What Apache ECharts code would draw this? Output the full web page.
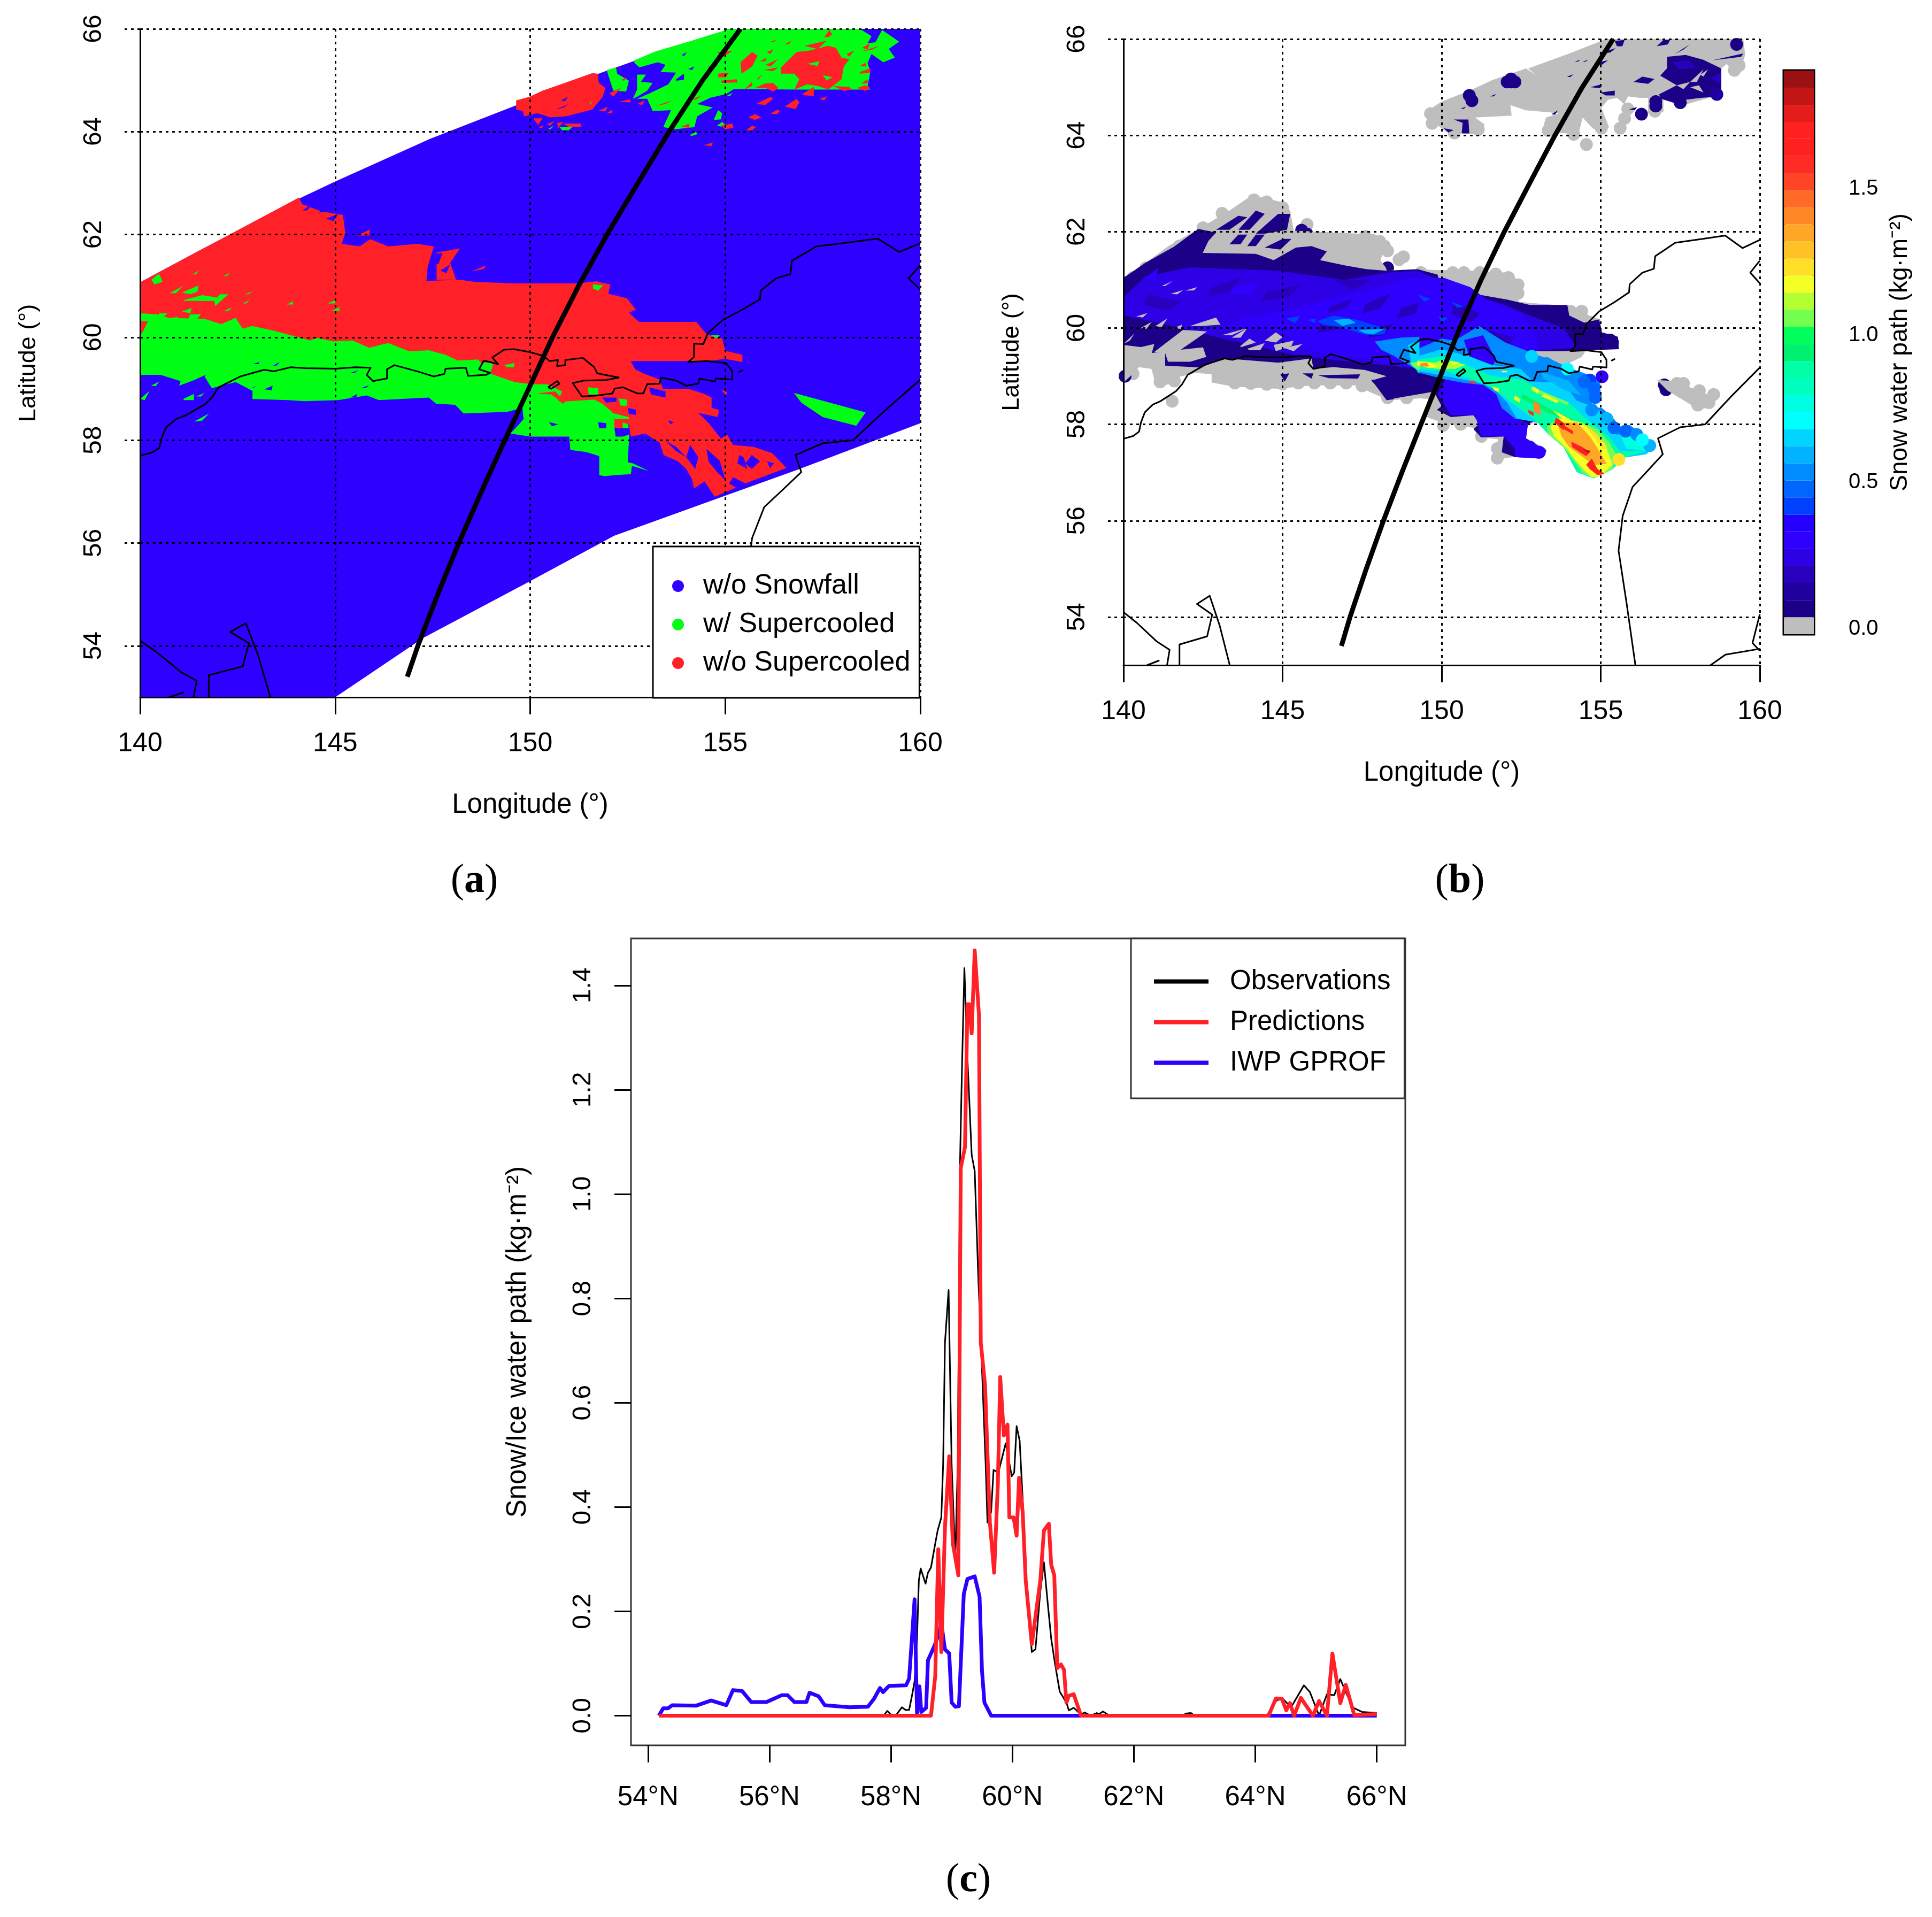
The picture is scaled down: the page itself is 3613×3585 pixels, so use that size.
<!DOCTYPE html>
<html>
<head>
<meta charset="UTF-8">
<title>Snowfall retrieval</title>
<style>html,body{margin:0;padding:0;background:#fff}#main{width:3613px;height:3585px}</style>
</head>
<body>
<div id="main"></div>
<script src="https://cdn.jsdelivr.net/npm/echarts@6/dist/echarts.min.js"></script>
<script>
// ---- shared axes
var lonTicks = [140, 145, 150, 155, 160];
var latTicks = [54, 56, 58, 60, 62, 64, 66];
var classNames = ['w/o Snowfall', 'w/ Supercooled', 'w/o Supercooled'];

// satellite track, lon/lat
var trackLine = [[146.85,53.4],[147.12,54],[147.63,55],[148.17,56],[148.75,57],[149.35,58],[149.96,59],[150.57,60],[151.24,61],[151.97,62],[152.76,63],[153.56,64],[154.42,65],[155.39,66]];

// coast lines, lon/lat
var coastLines = [
  [[140,57.7],[140.31,57.76],[140.49,57.85],[140.55,58.04],[140.67,58.25],[140.92,58.41],[141.16,58.48],[141.65,58.69],[141.84,58.83],[142.02,59.03],[142.57,59.24],[143.18,59.37],[143.43,59.34],[143.86,59.42],[144.22,59.4],[145.02,59.39],[145.51,59.42],[145.91,59.41],[145.81,59.27],[145.97,59.15],[146.33,59.2],[146.33,59.38],[146.52,59.46],[147.1,59.34],[147.53,59.24],[147.8,59.29],[147.83,59.39],[148.35,59.41],[148.41,59.25],[148.87,59.27],[148.97,59.31],[148.69,59.38],[148.81,59.55],[149.18,59.48],[149.03,59.61],[149.33,59.76],[149.59,59.77],[150.01,59.71],[150.33,59.64],[150.5,59.54],[150.71,59.56],[150.69,59.44],[150.9,59.46],[150.9,59.56],[151.35,59.6],[151.64,59.42],[151.72,59.3],[152.27,59.22],[151.95,59.17],[151.37,59.16],[151.09,59.11],[151.33,58.85],[151.74,58.87],[152.11,58.91],[152.16,59],[152.37,59.03],[152.74,58.91],[152.9,58.91],[153,59.09],[153.32,59.1],[153.35,59.22],[153.74,59.16],[154,59.06],[154.31,59.1],[154.34,59.2],[154.73,59.14],[154.76,59.2],[155.18,59.18],[155.18,59.34],[155.02,59.5],[154.52,59.54],[154.05,59.52],[154.2,59.62],[154.2,59.88],[154.44,59.87],[154.55,60.08],[154.94,60.34],[155.44,60.54],[155.89,60.74],[155.91,60.91],[156.31,61.15],[156.67,61.23],[156.71,61.49],[157.34,61.77],[158.2,61.85],[158.91,61.92],[159.46,61.66],[160,61.83]],
  [[160,61.4],[159.7,61.15],[160,60.93]],
  [[150.46,59.03],[150.69,59.15],[150.75,59.1],[150.54,59],[150.46,59.03]],
  [[155.33,59.32],[155.45,59.36]],
  [[160,59.18],[159.07,58.56],[158.28,58],[157.5,57.94],[156.8,57.71],[156.95,57.38],[156.48,57.04],[156,56.7],[155.69,56.1],[155.56,55.38],[155.81,54.3],[156.09,53]],
  [[140,54.1],[140.42,53.88],[141.05,53.49],[141.45,53.32],[141.37,53]],
  [[141.76,53],[141.76,53.43],[142.63,53.6],[142.79,54.05],[142.31,54.27],[142.71,54.44],[143.02,53.83],[143.34,53]],
  [[140.74,53],[141.13,53.1]],
  [[158.45,53],[158.92,53.22],[160,53.34]],
  [[160,54.06],[159.77,53.46],[160,53.3]]
];

// ---- panel a: classified swath outlines, lon/lat
var swathRing = [[140,61.07],[141.6,61.72],[144.08,62.7],[145,63.03],[147.43,63.86],[150,64.62],[151.83,65.15],[153.09,65.49],[155,65.94],[155.3,66],[160,66],[160,58.33],[156.87,57.43],[155,56.92],[152.15,56.14],[150,55.26],[147.27,54.16],[145,53],[140,53]];

var greenRings = [
  [[140,59.27],[140.52,59.27],[141.04,59.15],[141,59.06],[141.65,59.24],[141.84,59.01],[142.08,59.06],[142.45,59.13],[142.88,58.96],[142.88,58.8],[143.79,58.78],[144.22,58.76],[145.08,58.78],[145.81,58.87],[146.12,58.78],[147.4,58.83],[147.59,58.71],[148.08,58.69],[148.29,58.52],[149.41,58.55],[149.8,58.63],[149.83,58.41],[149.67,58.27],[149.49,58.13],[150.01,58.07],[151,58.07],[151.03,57.81],[151.43,57.77],[151.77,57.69],[151.77,57.32],[151.9,57.3],[152.2,57.32],[152.58,57.34],[152.61,57.5],[153.05,57.4],[152.63,57.55],[152.5,57.57],[152.54,58.11],[152.5,58.43],[152.45,58.79],[151.9,58.75],[151.9,59],[150.85,59.1],[150.06,59.1],[149,59.5],[148,59.8],[146,60],[144,60.2],[142,60.5],[140,60.6]],
  [[156.76,58.92],[158.6,58.54],[158.36,58.28],[157.5,58.45],[156.95,58.73]],
  [[152.67,65.39],[153.21,65.56],[154.01,65.74],[154.95,65.96],[155.02,66],[158.45,66],[158.75,65.86],[158.65,65.72],[158.85,65.74],[159.02,65.98],[159.46,65.75],[159.19,65.61],[159.35,65.44],[159.05,65.35],[158.75,65.51],[158.65,65.34],[158.72,65.16],[158.65,64.89],[158.72,64.82],[156.83,64.82],[155.22,64.83],[155.02,64.73],[154.62,64.66],[154.28,64.54],[154.68,64.47],[154.28,64.3],[154.21,64.09],[153.74,64.05],[153.41,64.09],[153.61,64.42],[153.14,64.4],[153,64.64],[152.74,64.64],[153.07,64.75],[153.54,64.92],[153.74,65.15],[153.34,65.16],[153.47,65.3],[153.27,65.35],[152.8,65.25],[152.67,65.34]],
  [[151.96,65.2],[152.2,65.25],[152.23,65.13],[152.53,64.99],[152.46,64.78],[152.13,64.8],[152.03,65.03]],
  [[152.74,65.11],[152.97,65.11],[152.84,64.97],[153.14,64.95],[153,64.8],[152.74,64.68],[152.63,64.64],[152.74,64.82]]
];

var redRings = [
  [[140,61.07],[141.6,61.72],[144.07,62.72],[144.16,62.59],[144.65,62.45],[145.2,62.38],[145.26,62.03],[145.17,61.82],[145.63,61.77],[145.9,61.91],[146.36,61.77],[147.1,61.82],[147.53,61.77],[147.37,61.36],[147.34,61.1],[148.2,61.12],[148.57,61.08],[149.6,61.05],[150,61.05],[151.22,61.05],[151.69,61.09],[152.06,61.03],[152,60.85],[152.48,60.76],[152.71,60.54],[152.53,60.48],[152.79,60.3],[154.26,60.3],[154.52,60.06],[154.92,59.98],[155,59.74],[155.44,59.66],[155.44,59.52],[155,59.58],[154.52,59.54],[153.63,59.54],[152.58,59.54],[152.69,59.38],[152.9,59.3],[153.32,59.18],[153.4,59],[154.05,59],[154.47,58.9],[154.65,58.83],[154.65,58.63],[154.84,58.59],[154.81,58.45],[154.31,58.53],[154.58,58.33],[154.89,58.03],[155.05,58.11],[155.2,57.91],[155.73,57.87],[156.2,57.75],[156.57,57.46],[155.65,57.2],[154.73,56.9],[154.47,57.2],[154.2,57.06],[154.15,57.24],[154,57.44],[153.79,57.59],[153.42,57.71],[153.32,57.95],[152.95,58.13],[152.58,58.07],[152.53,58.31],[152.16,58.39],[152.1,58.55],[151.85,58.71],[151.64,58.79],[150.85,58.75],[150.75,58.83],[150.82,58.95],[150.43,59.09],[150.04,59.09],[149.6,59.13],[149,59.29],[148.66,59.57],[148.14,59.55],[147.83,59.66],[147.4,59.75],[146.9,59.73],[146.36,59.89],[145.87,59.8],[145.45,59.94],[144.96,59.92],[144.53,59.99],[144.35,59.94],[143.92,60.03],[143.43,60.13],[142.88,60.22],[142.63,60.17],[142.45,60.38],[142.08,60.26],[141.65,60.36],[140.73,60.38],[140.43,60.45],[140,60.47]],
  [[149.64,64.61],[149.98,64.68],[150.32,64.8],[150.85,64.94],[151.59,65.14],[151.73,65.13],[151.76,64.95],[151.93,64.85],[151.86,64.68],[151.59,64.43],[150.92,64.3],[150.52,64.28],[150.18,64.36],[149.85,64.3],[149.81,64.4],[149.64,64.43]],
  [[156.43,65.25],[156.83,65.55],[157.17,65.58],[157.64,65.67],[157.84,65.63],[157.98,65.44],[158.18,65.41],[158.04,65.27],[157.98,65.02],[157.64,64.82],[157.37,64.89],[157.1,64.92],[156.77,64.82],[156.9,65.02],[156.77,65.13],[156.43,65.13]]
];

// small patches: class index (0 blue, 1 green, 2 red), outline
var classPatches = [
  [2,[[147.6,61.65],[148.2,61.73],[147.95,61.45],[148.1,61.12],[147.6,61.12]]],
  [0,[[147.5,61.62],[147.75,61.64],[147.65,61.43],[147.38,61.38]]],
  [0,[[147.7,61.3],[147.95,61.42],[147.85,61.25]]],
  [0,[[147.35,61.12],[147.6,61.22],[147.5,61.1]]],
  [2,[[145.57,61.98],[145.9,62.1],[145.87,61.98]]],
  [2,[[148.49,61.28],[148.87,61.4],[148.81,61.33]]],
  [0,[[144.16,62.47],[144.41,62.59],[144.28,62.47]]],
  [0,[[144.56,62.42],[144.77,62.53],[144.74,62.45]]],
  [0,[[144.77,62.31],[145.08,62.4],[144.96,62.26]]],
  [1,[[140.48,61.24],[140.58,61.08],[140.37,61.03],[140.29,61.12]]],
  [1,[[141.13,60.73],[141.59,60.82],[141.96,60.78],[141.96,60.71],[141.13,60.71]]],
  [1,[[141.07,60.87],[141.5,61.01],[141.47,60.89],[141.29,60.84]]],
  [1,[[140.76,60.86],[141.1,61],[140.92,60.86]]],
  [1,[[141.93,60.61],[142.26,60.84],[142.05,60.84],[141.9,60.71]]],
  [1,[[141.35,61.23],[141.5,61.3],[141.44,61.23]]],
  [1,[[142.14,61.19],[142.3,61.26],[142.23,61.19]]],
  [1,[[142.69,60.84],[142.88,60.9],[142.78,60.84]]],
  [1,[[142.63,60.66],[142.81,60.73],[142.72,60.66]]],
  [1,[[143.76,60.64],[143.92,60.7],[143.92,60.64]]],
  [1,[[144.8,60.66],[145.02,60.73],[144.99,60.66]]],
  [1,[[144.9,60.51],[145.11,60.59],[145.11,60.52]]],
  [1,[[142.14,60.51],[142.36,60.59],[142.26,60.51]]],
  [1,[[141.07,60.5],[141.32,60.57],[141.29,60.47]]],
  [1,[[140,60.45],[140.18,60.45],[140.03,60.31],[140,60.31]]],
  [1,[[140.49,60.47],[140.7,60.47],[140.58,60.38],[140.43,60.38]]],
  [1,[[141.29,60.45],[141.56,60.45],[141.44,60.34],[141.22,60.34]]],
  [1,[[140.8,60.38],[140.98,60.4],[140.86,60.31],[140.73,60.31]]],
  [1,[[140.15,60.38],[140.4,60.38],[140.24,60.22],[140.12,60.22]]],
  [2,[[140,60.31],[140.2,60.31],[140.05,60.08],[140,60.08]]],
  [0,[[142.88,59.48],[143.06,59.52],[143.03,59.48]]],
  [0,[[143.4,59.45],[143.58,59.52],[143.5,59.45]]],
  [0,[[145.39,59.31],[145.6,59.36],[145.5,59.31]]],
  [0,[[145.66,59.01],[145.87,59.07],[145.78,59.01]]],
  [0,[[142.85,59.01],[143,59.06],[142.9,59.01]]],
  [0,[[143.18,58.99],[143.4,59.06],[143.37,58.97]]],
  [0,[[145.39,58.83],[145.57,58.9],[145.54,58.83]]],
  [0,[[141.07,59.06],[141.68,59.27],[141.62,59.17],[141.22,59.01]]],
  [1,[[141.1,58.8],[141.38,58.9],[141.38,58.78],[141.13,58.78]]],
  [1,[[141.44,58.85],[141.65,58.92],[141.56,58.85]]],
  [1,[[141.38,58.36],[141.77,58.52],[141.59,58.38]]],
  [1,[[140,58.8],[140.24,58.96],[140.12,58.78]]],
  [1,[[140.28,59.06],[140.49,59.14],[140.4,59.05]]],
  [0,[[154.52,57.83],[154.86,57.6],[155,57.23],[154.78,57.39],[154.57,57.59]]],
  [0,[[154.1,57.91],[154.31,57.67],[154.23,57.44],[154,57.67]]],
  [0,[[153.47,57.99],[153.74,57.87],[154,57.67],[153.74,57.79]]],
  [0,[[155.2,57.28],[155.52,57.16],[155.31,57.06],[155.1,57.16]]],
  [0,[[155.31,57.55],[155.57,57.44],[155.47,57.67],[155.36,57.71]]],
  [0,[[156.07,57.59],[156.25,57.55],[156.15,57.46]]],
  [0,[[155.68,57.71],[155.89,57.59],[155.68,57.44],[155.52,57.55]]],
  [0,[[153.05,59.03],[153.47,58.95],[153.47,58.83],[153.1,58.89]]],
  [0,[[152.5,58.63],[152.71,58.59],[152.71,58.49],[152.53,58.51]]],
  [0,[[153.53,58.39],[153.68,58.35],[153.6,58.31]]],
  [0,[[152.16,58.23],[152.53,58.23],[152.53,58.11],[152.37,58.07],[152.19,58.07]]],
  [0,[[151.74,58.35],[151.95,58.33],[151.95,58.23],[151.77,58.23]]],
  [0,[[151.85,58.83],[152.21,58.83],[152.21,58.75],[151.95,58.73]]],
  [0,[[150.48,58.35],[150.72,58.31],[150.56,58.27]]],
  [1,[[151.48,59.03],[151.74,59.01],[151.74,58.89],[151.5,58.89]]],
  [1,[[152.27,58.81],[152.48,58.79],[152.48,58.67],[152.32,58.67]]],
  [1,[[152.1,58.53],[152.53,58.45],[152.53,58.41],[152.16,58.41]]],
  [1,[[151.61,61.03],[151.87,61.01],[151.74,60.91],[151.61,60.95]]],
  [1,[[149.33,59.46],[149.59,59.5],[149.59,59.42],[149.41,59.42]]],
  [1,[[148.75,59.5],[149.07,59.52],[148.96,59.26],[148.75,59.26]]],
  [2,[[150.17,58.91],[150.64,58.95],[150.85,58.79],[150.72,58.79],[150.54,58.89]]],
  [2,[[150.69,58.79],[150.93,58.79],[150.85,58.71]]],
  [2,[[152.16,58.39],[152.37,58.35],[152.37,58.23],[152.16,58.23]]],
  [1,[[154.63,60.04],[154.86,60.04],[154.78,59.98]]],
  [2,[[154.89,58.99],[155.05,58.93],[155.02,58.87]]],
  [2,[[150.08,64.26],[150.32,64.26],[150.2,64.13]]],
  [2,[[150.42,64.14],[150.62,64.21],[150.52,64.12]]],
  [2,[[150.2,64.09],[150.35,64.12],[150.3,64.07]]],
  [2,[[150.69,64.17],[150.85,64.19],[150.72,64.07]]],
  [2,[[150.85,64.16],[151.29,64.16],[151.32,64.1],[150.99,64.09]]],
  [1,[[150.75,64.09],[151.09,64.1],[150.99,64.03],[150.82,64.03]]],
  [1,[[150.45,64.05],[150.62,64.12],[150.52,64.05]]],
  [0,[[150.79,64.61],[150.97,64.68],[150.89,64.59]]],
  [0,[[150.65,64.43],[150.99,64.54],[150.85,64.47]]],
  [1,[[151.53,64.57],[151.59,64.59],[151.53,64.52]]],
  [1,[[154.72,64.26],[154.82,64.42],[154.92,64.36],[154.89,64.24],[154.72,64.23]]],
  [1,[[154.79,64.12],[154.92,64.19],[155.02,64.12],[154.89,64.1]]],
  [1,[[154.08,63.93],[154.25,64],[154.28,63.95],[154.15,63.92]]],
  [1,[[155.02,64.69],[155.19,64.76],[155.12,64.69]]],
  [1,[[157.1,65.32],[157.41,65.37],[157.37,65.28]]],
  [1,[[157.5,65.1],[157.75,65.06],[157.6,65]]],
  [2,[[154.88,64.99],[155.29,65.02],[155.32,64.96],[154.92,64.95]]],
  [2,[[154.82,65.13],[155.09,65.15],[155.02,65.06],[154.82,65.06]]],
  [2,[[155.39,65.35],[155.69,65.55],[155.83,65.48],[155.69,65.27],[155.42,65.13]]],
  [2,[[155.49,64.82],[155.69,64.97],[155.69,64.89]]],
  [2,[[155.76,64.85],[156.03,64.94],[156.23,64.95],[156.36,64.85],[156.23,64.78],[156.03,64.85]]],
  [2,[[155.89,65.37],[156.06,65.44],[156.03,65.37]]],
  [2,[[156.06,65.55],[156.23,65.6],[156.16,65.51]]],
  [2,[[156.03,65.3],[156.36,65.41],[156.16,65.27]]],
  [2,[[155.99,65.2],[156.36,65.25],[156.23,65.18]]],
  [2,[[155.83,65.04],[155.96,65.11],[155.83,65.0]]],
  [2,[[156.16,65.75],[156.33,65.79],[156.23,65.74]]],
  [2,[[156.53,65.7],[156.7,65.77],[156.63,65.7]]],
  [2,[[157.54,65.84],[157.67,65.98],[157.74,65.89],[157.64,65.84]]],
  [2,[[157.03,65.67],[157.6,65.77],[157.37,65.61]]],
  [2,[[158.11,65.51],[158.31,65.58],[158.18,65.46]]],
  [2,[[158.51,65.63],[158.71,65.72],[158.65,65.6]]],
  [2,[[158.48,65.56],[158.95,65.67],[158.78,65.6]]],
  [2,[[158.45,65.28],[158.59,65.34],[158.62,65.27]]],
  [2,[[158.45,65.16],[158.72,65.23],[158.72,65.15],[158.45,65.13]]],
  [2,[[158.48,64.94],[158.65,65.02],[158.65,64.94]]],
  [2,[[158.38,64.85],[158.59,64.9],[158.72,64.85],[158.59,64.79]]],
  [2,[[157.77,64.89],[158.18,64.87],[158.24,64.82],[158.05,64.79]]],
  [2,[[156.97,64.73],[157.27,64.87],[157.27,64.69],[157.04,64.71]]],
  [2,[[157.41,64.64],[157.61,64.69],[157.54,64.61]]],
  [2,[[155.79,64.54],[156.16,64.68],[156.23,64.64],[156.03,64.52]]],
  [2,[[156.53,64.49],[156.83,64.64],[156.9,64.57],[156.8,64.44]]],
  [2,[[156.16,64.35],[156.33,64.43],[156.4,64.4],[156.33,64.34]]],
  [2,[[155.59,64.28],[155.76,64.34],[155.93,64.28],[155.76,64.23]]],
  [2,[[155.54,64.03],[155.69,64.12],[155.79,64.09],[155.69,64.03]]],
  [2,[[154.89,64.12],[155.19,64.16],[155.21,64.07],[154.99,64.05]]],
  [2,[[154.45,63.74],[154.68,63.79],[154.65,63.72]]],
  [2,[[153.88,64.1],[154.08,64.16],[154.08,64.07]]],
  [2,[[154.18,64.64],[154.38,64.7],[154.25,64.62]]],
  [2,[[153.21,64.5],[153.64,64.61],[153.47,64.54]]],
  [2,[[152.74,64.54],[152.94,64.61],[152.87,64.52]]],
  [2,[[152.26,64.58],[152.57,64.63],[152.57,64.57]]],
  [2,[[151.96,64.36],[152.1,64.43],[152.1,64.36]]],
  [2,[[154.55,65.27],[154.82,65.3],[154.68,65.23]]],
  [2,[[154.79,65.55],[155.19,65.57],[154.95,65.46]]],
  [2,[[151.73,64.4],[151.99,64.49],[151.93,64.4]]],
  [2,[[152.03,64.75],[152.33,64.85],[152.13,64.68]]],
  [2,[[152.33,65.01],[152.5,65.05],[152.4,64.99]]],
  [0,[[153.88,65.49],[154.01,65.55],[153.95,65.47]]],
  [0,[[154.05,65.22],[154.21,65.27],[154.15,65.2]]],
  [0,[[153.74,65.02],[153.94,65.13],[153.94,65.01],[153.74,64.99]]]
];

// ---- panel b: colour bar bins and retrieved snow water path
var swpBinEdges = [-0.018,0.04,0.098,0.157,0.215,0.273,0.331,0.389,0.448,0.506,0.564,0.622,0.68,0.739,0.797,0.855,0.913,0.971,1.03,1.088,1.146,1.204,1.262,1.321,1.379,1.437,1.495,1.553,1.612,1.67,1.728,1.786,1.844,1.903];
var swpBinColors = ['#BEBEBE','#1C0088','#20009F','#2800BE','#2E00E6','#3000FF','#2600FF','#0040FF','#0066FF','#008CFF','#00B2FF','#00D4FF','#00FFFF','#00FFE2','#00FFBE','#00FFA6','#00F070','#00FF5C','#73FF50','#B4FF32','#F4FF26','#FFE026','#FFC226','#FFA626','#FF8826','#FF6A26','#FF4526','#FF2C26','#FF2020','#FF2020','#E41C1C','#C21515','#9B1010'];
var swpTicks = [0, 0.5, 1, 1.5];

// dots under the filled areas [lon, lat, value]
var swpDotsBack = [
  [141.53,58.48,0],[145.77,62.15,0],[148.66,61.42,0],[148.8,61.48,0],[140.3,59.05,0],[141.3,58.95,0],[141.15,58.88,0],[141.6,58.9,0],[143.5,58.86,0],[144,58.85,0],[144.5,58.83,0],[145,58.84,0],[145.5,58.86,0],[146,58.86,0],[146.5,58.86,0],[147,58.86,0],[147.5,58.8,0],[148.3,58.55,0],[148.9,58.55,0],
  [144.1,62.66,0],[144.5,62.62,0],[145,62.5,0],[147.6,61.9,0],[148.05,61.8,0],[148.2,61.7,0],[148.3,61.6,0],[147.9,61.35,0],[149.35,61.15,0],[150.35,61.15,0],[150.7,61.15,0],[151.2,61.15,0],[151.7,61.12,0],[152.1,61.05,0],[152.4,60.9,0],[152.4,60.72,0],[154.4,60.35,0],[140.7,61.25,0],[140.3,61.05,0],[141.75,61.7,0],[142.5,62.08,0],[143.1,62.38,0],
  [154.55,63.81,0],[155.61,64.15,0],[155.75,64.35,0],[155.02,64.15,0],[154.15,64.02,0],[153.35,64.1,0],[150.4,64.05,0],[149.65,64.45,0],[149.7,64.25,0],[151.15,64.12,0],
  [155.85,64.55,0],[156.7,64.5,0],[159.35,65.45,0],[159.2,65.35,0],
  [150.05,57.98,0],[150.6,58,0],[151.25,57.75,0],[151.75,57.3,0],[151.75,57.5,0],
  [157.6,58.85,0],[158.1,58.7,0],[158.4,58.45,0],[158.05,58.4,0],[157.75,58.6,0],[157.4,58.85,0],[158.55,58.62,0],
  [154.05,60.35,0],[154.45,60.12,0],
  [145.77,61.95,0.07],[145.6,62.03,0.07],[146.1,61.85,0.07],[146.4,61.85,0.07],[146.1,61.7,0.07],[140.05,59,0.07],[148.3,61.25,0.07],[142.4,61.88,0.07],[141.85,61.62,0.07],[140.55,61.1,0.12],
  [157,58.82,0.07],[157.05,58.72,0.07],[157.55,58.68,0.07]
];

// filled areas, drawn in this order [value, outline]
var swpAreas = [
  [0,[[140,61.07],[140.2,61.11],[141.41,61.7],[142.49,62.11],[143.26,62.41],[143.89,62.69],[144.3,62.72],[145,62.61],[145.24,62.44],[145.35,62.02],[146.11,62],[147.37,61.96],[147.86,61.96],[148.31,61.78],[148.07,61.41],[148.24,61.26],[148.28,61.19],[149.04,61.22],[150.01,61.2],[150.52,61.21],[152.03,61.15],[152.6,60.91],[152.41,60.55],[152.77,60.52],[153.95,60.46],[154.36,60.33],[154.98,60.18],[155.01,60],[154.4,59.4],[153.5,59.1],[153,58.8],[153.24,58],[152.89,58.04],[152.71,57.97],[152.65,57.71],[153.3,57.49],[153.18,57.32],[152.48,57.34],[151.89,57.29],[151.71,57.42],[151.77,57.69],[151.18,57.73],[151,57.93],[150,58.04],[149.53,58.15],[149.76,58.52],[149.32,58.54],[148.34,58.5],[147.51,58.74],[147.3,58.81],[145.91,58.81],[144.86,58.74],[143.47,58.78],[142.77,58.87],[142.77,59.04],[142.28,59.07],[141.72,58.98],[141.65,58.85],[141.02,58.8],[140.88,59.15],[140.49,59.19],[140.28,59.04],[140,58.87]]],
  [0,[[149.58,64.52],[150,64.7],[150.98,64.96],[151.6,65.15],[152.65,65.39],[153.03,65.22],[153.42,65.15],[153.26,65.02],[153.14,65.15],[152.72,65.39],[153.97,65.69],[155.02,65.96],[155.13,66],[159.48,66],[159.54,65.67],[159.41,65.41],[159.14,65.33],[158.96,65.48],[158.79,65.39],[158.79,64.85],[157.6,64.63],[156.97,64.74],[156.97,64.48],[156.49,64.46],[156.49,64.78],[156.21,64.78],[155.86,64.81],[155.72,64.63],[155.93,64.54],[155.51,64.78],[155.23,64.74],[155.02,64.57],[155.26,64.17],[155.02,64.06],[154.74,64.15],[154.43,64.37],[154.32,64.07],[154.15,63.93],[153.97,64.04],[153.42,64.07],[153.21,64.22],[153.28,64.37],[153.7,64.46],[152.65,64.52],[152.16,64.63],[152.2,64.41],[151.05,64.37],[151.36,64.22],[151.05,64.02],[150.14,64.07],[149.65,64.33]]],
  [0,[[156.77,58.92],[157.3,58.9],[158,58.72],[158.6,58.55],[158.6,58.4],[158.1,58.3],[157.6,58.5],[157.1,58.7]]],
  [0.07,[[140,61.04],[140.68,61.35],[141.59,61.69],[142.35,62.06],[142.91,61.98],[142.67,61.81],[142.49,61.56],[144.16,61.54],[144.72,61.41],[145.42,61.67],[145.91,61.7],[146.39,61.59],[146.18,61.41],[146.95,61.3],[147.65,61.22],[148.27,61.19],[149.25,61.22],[149.87,61.11],[149.94,60.96],[150.85,60.83],[151.12,60.7],[152.06,60.59],[152.77,60.48],[153.95,60.48],[154.01,60.26],[154.48,60.11],[154.95,60.18],[155.04,59.91],[155.54,59.82],[155.57,59.56],[153.83,59.52],[152.71,59.52],[152.89,58.86],[152.89,58.06],[152.71,58.01],[152.65,57.71],[153.3,57.45],[153.07,57.29],[152.3,57.32],[151.89,57.42],[151.95,57.75],[151.24,57.73],[151,57.9],[151.18,58.01],[151,58.19],[150.29,58.15],[149.85,58.3],[150,58.38],[149.82,58.6],[149.67,58.67],[148.69,58.56],[148.34,58.52],[147.79,58.91],[148.27,59],[147.58,59.13],[146.6,59.19],[145.97,59.15],[145.91,59.37],[144.86,59.28],[143.19,59.37],[142.42,59.18],[141.31,59.22],[141.31,59.52],[140.89,59.48],[140.97,59.67],[140,59.52]]],
  [0.07,[[142.91,62.04],[143.61,62.33],[143.89,62.3],[143.33,62.04]]],
  [0.07,[[143.61,62.04],[144.16,62.44],[144.44,62.37],[143.96,62.04]]],
  [0.07,[[144.16,61.96],[144.86,62.37],[145.24,62.37],[145.14,62.04],[144.44,61.96]]],
  [0.07,[[143.33,61.74],[143.61,61.94],[143.89,61.94],[143.68,61.74]]],
  [0.07,[[143.89,61.7],[144.16,61.94],[144.44,61.94],[144.16,61.7]]],
  [0.07,[[144.44,61.67],[145,61.85],[145.28,61.85],[144.93,61.63]]],
  [0.07,[[146.11,59.02],[147.44,59.04],[147.37,58.95],[146.46,58.96]]],
  [0.07,[[145.63,59.06],[145.97,59.06],[145.91,58.95]]],
  [0.07,[[144.93,59.04],[145.21,59.06],[145.07,58.89]]],
  [0.07,[[147.79,58.93],[148.9,58.83],[148.48,58.52],[148.27,58.5]]],
  [0.25,[[140,60.63],[140.68,61.07],[142.08,61.26],[144.86,61.19],[146.95,61],[148.27,61.15],[149.25,61.19],[150.9,60.7],[152,60.48],[152.77,60.26],[153.83,60],[154.25,59.59],[152.71,59.52],[150.9,59.22],[148.34,59.22],[145.56,59.41],[143.12,59.78],[141.38,60.07],[140,60.26]]],
  [0.3,[[143.12,60.04],[143.82,60.22],[145.21,60.37],[146.25,60.56],[147.65,60.78],[149.04,61.04],[150.08,61.04],[150.9,60.85],[151.5,60.55],[152.5,60.3],[153,59.8],[153,59.52],[152.71,59.56],[151.18,59.23],[150,59.15],[148.69,59.19],[147.65,59.37],[146.6,59.41],[145.91,59.52],[144.86,59.93]]],
  [0.3,[[149.88,58.63],[150.12,58.93],[151.3,58.82],[151.71,58.63],[151.89,58.34],[152.3,58.15],[152.71,58.01],[152.65,57.71],[153.3,57.45],[153.07,57.29],[152.3,57.32],[152.3,57.5],[151.95,57.75],[151.24,57.75],[151.06,58.19],[150.29,58.19]]],
  [0.18,[[146.5,60.45],[147.2,60.6],[147,60.42],[146.4,60.3]]],
  [0.18,[[147.6,60.5],[148.4,60.72],[148.1,60.42],[147.5,60.3]]],
  [0.18,[[148.7,60.4],[149.3,60.55],[149.2,60.3],[148.6,60.2]]],
  [0.18,[[146.2,60.1],[147.1,60.2],[146.8,59.98],[146.1,59.9]]],
  [0.18,[[147.6,59.95],[148.5,60.1],[148.2,59.85],[147.7,59.8]]],
  [0.18,[[150.4,60.55],[151.2,60.3],[150.9,60.1],[150.3,60.3]]],
  [0.18,[[151.5,59.95],[152.3,59.8],[152.1,59.65],[151.3,59.85]]],
  [0.18,[[144.5,60.75],[145.6,60.9],[145.2,60.65],[144.3,60.55]]],
  [0.18,[[142.8,60.85],[143.7,61.05],[143.3,60.75],[142.6,60.65]]],
  [0.18,[[140.8,60.7],[141.8,60.55],[141.4,60.35],[140.6,60.5]]],
  [0.18,[[146.6,61],[147.8,61],[147.2,60.8]]],
  [0.3,[[143.5,60.85],[144.3,60.95],[144,60.7],[143.3,60.7]]],
  [0.3,[[141.2,60.95],[141.7,61.05],[141.5,60.85]]],
  [0.3,[[140.7,61.05],[141.1,61.25],[141,61]]],
  [0.42,[[149.25,60.7],[149.65,60.6],[149.45,60.55]]],
  [0.42,[[150.3,60.55],[150.7,60.45],[150.5,60.42]]],
  [0.42,[[149.9,60.25],[150.2,60.2],[150,60.12]]],
  [0.42,[[145.1,60.2],[145.55,60.25],[145.4,60.1]]],
  [0.42,[[145.8,60.17],[146.05,60.2],[146,60.1]]],
  [0.42,[[146.11,60.15],[146.6,60.26],[147.37,60.17],[148.27,59.98],[148.2,59.87],[147.65,59.85],[146.81,60.02],[146.25,60.07]]],
  [0.6,[[146.6,60.17],[147.09,60.19],[147.3,60.11],[146.88,60.04]]],
  [0.6,[[147.37,59.96],[148.2,59.98],[147.86,59.87],[147.58,59.89]]],
  // gaps with no snow inside the band
  [0,[[141.48,60.71],[141.88,60.79],[141.69,60.7]]],
  [0,[[141.94,60.78],[142.32,60.85],[142.21,60.78]]],
  [0,[[141.2,60.87],[141.55,60.98],[141.31,60.87]]],
  [0,[[140.4,60.24],[140.75,60.31],[140.61,60.22]]],
  [0,[[140.54,60],[140.89,60.13],[140.72,59.98]]],
  [0,[[141,60.04],[141.38,60.2],[141.2,60.02]]],
  [0,[[141.59,60],[141.83,60.07],[141.83,59.98]]],
  [0,[[142.08,60.04],[142.91,60.22],[143.05,60.07],[142.42,60.04]]],
  [0,[[143.08,59.85],[143.89,60],[143.4,59.85]]],
  [0,[[143.4,59.8],[143.89,60],[143.68,59.8]]],
  [0,[[140.96,59.5],[141.87,59.96],[142.63,59.93],[141.8,59.55],[142.5,59.6],[142.6,59.4],[142.1,59.3],[141.4,59.3],[141.3,59.5]]],
  [0,[[140,59.67],[140.35,59.89],[140.2,59.74]]],
  [0,[[140,59.65],[140.6,59.6],[140.7,59.5],[140,59.5]]],
  [0,[[143.68,59.63],[143.96,59.78],[144.16,59.7],[143.68,59.6]]],
  [0,[[143.89,59.57],[144.44,59.69],[144.3,59.54],[143.96,59.54]]],
  [0,[[144.44,59.74],[144.79,59.91],[145,59.81],[144.79,59.7]]],
  [0,[[144.72,59.65],[145.35,59.74],[145.28,59.63],[144.79,59.52]]],
  [0,[[145.03,59.59],[145.63,59.67],[145.35,59.52]]],
  // north patches
  [0.07,[[157.08,65.63],[157.67,65.67],[158.22,65.57],[158.79,65.39],[158.79,64.81],[158.15,64.78],[157.67,64.74],[157.53,64.61],[157.32,64.67],[156.9,64.76],[156.83,64.85],[157.39,65.04],[156.87,65.24],[157.08,65.39]]],
  [0,[[157.81,65.11],[158.23,65.37],[158.02,65.11]]],
  [0,[[158.13,65.26],[158.37,65.37],[158.23,65.22]]],
  [0,[[157.81,65],[158.23,64.89],[158.09,65.04]]],
  [0,[[157.39,65.04],[157.81,65.11],[157.6,64.96]]],
  [0.2,[[157.25,65.52],[157.74,65.56],[158.02,65.41],[157.46,65.37]]],
  [0.2,[[158.44,65.19],[158.79,65.3],[158.75,65.07]]],
  [0.07,[[156.03,65.11],[156.31,65.22],[156.69,65.17],[156.49,65.07]]],
  [0.07,[[155.44,65.96],[155.75,65.98],[155.68,65.85],[155.51,65.85]]],
  [0.07,[[156.76,65.85],[156.97,65.98],[157.18,65.98],[157.11,65.89]]],
  [0.07,[[157.32,65.69],[157.8,65.89],[157.6,65.78]]],
  [0.07,[[158.51,65.56],[159.48,65.7],[159.41,65.63]]],
  [0.07,[[154.18,65.53],[154.36,65.57],[154.29,65.53]]],
  [0.07,[[154.43,65.53],[154.6,65.57],[154.53,65.53]]],
  [0.07,[[154.92,65.7],[155.47,65.81],[155.3,65.72]]],
  [0.07,[[154.81,65.5],[155.23,65.56],[155.02,65.46]]],
  [0.07,[[153.94,65.22],[154.15,65.27],[154.04,65.21]]],
  [0.07,[[151.53,64.81],[151.71,64.86],[151.64,64.81]]],
  [0.07,[[150.59,64.55],[150.77,64.6],[150.7,64.55]]],
  [0.07,[[153.45,64.44],[153.66,64.52],[153.56,64.43]]],
  [0.07,[[154.67,65],[155.02,65.06],[154.99,64.98]]],
  [0.07,[[154.99,64.89],[155.44,64.93],[155.44,64.83],[155.16,64.83]]],
  [0.07,[[150.38,64.33],[150.84,64.33],[150.87,64.04],[150.63,64.04],[150.66,64.26]]],
  [0.07,[[150.07,64.15],[150.38,64.11],[150.21,64.06]]],
  [0.07,[[155.89,64.54],[156.14,64.59],[156.07,64.52]]],
  // core of the band
  [0.54,[[147.9,59.72],[148.7,59.8],[149.3,59.82],[149.3,59.1],[148.8,59.3],[148.5,59.42],[148.1,59.55]]],
  [0.54,[[149.23,59.56],[150,59.78],[150.41,59.74],[151.18,60.04],[152,59.7],[152.71,59.52],[152.95,59.45],[153.48,59.34],[153.95,59.19],[154.66,59.02],[154.98,58.86],[155.01,58.52],[154.54,58.38],[155.04,58.34],[155.37,58.15],[155.6,57.95],[155.9,57.99],[156.43,57.75],[156.72,57.56],[156.43,57.38],[155.72,57.31],[155.37,57.07],[154.78,56.88],[154.25,57.01],[153.83,57.53],[153.36,57.79],[153.13,58.04],[152.89,58.06],[152.3,58.12],[151.89,58.34],[151.71,58.63],[151.3,58.82],[150.71,58.86],[150.12,58.93],[149.23,59.08]]],
  [0.3,[[150.7,59.75],[151.3,59.85],[151.7,59.35],[151.6,59.2],[150.9,59.35]]],
  [0.65,[[148.95,59.65],[149.3,59.75],[149.3,59.05],[149.04,59.26]]],
  [0.65,[[149.23,59.41],[150,59.56],[150.88,59.41],[151.59,59.23],[152.48,59.15],[152.89,58.89],[153.83,58.86],[154.25,58.49],[154.89,58.34],[155.13,58.12],[155.48,57.79],[156.37,57.79],[156.72,57.56],[156.43,57.38],[155.72,57.31],[155.37,57.07],[154.78,56.88],[154.25,57.01],[153.83,57.53],[153.36,57.79],[153.01,58.04],[152.36,58.12],[152.06,58.45],[151.59,58.78],[151,58.89],[150.12,59],[149.23,59.11]]],
  [0.6,[[153.1,59.1],[154,58.9],[154.4,58.6],[153.9,58.7],[153.2,58.95]]],
  [0.7,[[152.18,58.78],[153.01,58.49],[153.01,58.41],[152.18,58.63]]],
  [0.88,[[149.23,59.34],[150,59.41],[150.77,59.23],[151.59,59],[152.54,58.93],[153.36,58.6],[154.07,58.41],[154.54,58.12],[155.25,57.75],[155.6,57.45],[156.43,57.45],[155.72,57.31],[155.37,57.07],[154.78,56.88],[154.25,57.01],[153.83,57.53],[153.36,57.79],[152.89,58.12],[152.42,58.34],[152.06,58.52],[151.59,58.75],[151,58.93],[150.12,59.11],[149.23,59.15]]],
  [0.76,[[155.6,57.8],[156.3,57.7],[156.4,57.45],[155.8,57.5]]],
  [0.95,[[152.54,58.63],[153.36,58.34],[154.07,58.12],[154.83,57.75],[154.8,57.65],[154,58.05],[153.3,58.25],[152.5,58.55]]],
  [1.06,[[152.83,58.78],[154.01,58.45],[153.95,58.4],[152.8,58.7]]],
  [1.06,[[153.3,57.95],[153.71,58.15],[154.42,58.04],[154.89,57.9],[155.25,57.64],[155.48,57.38],[155.37,57.07],[154.78,56.88],[154.42,57],[154.13,57.27],[153.83,57.53],[153.36,57.79]]],
  [1.06,[[149,59.28],[149.3,59.3],[149.3,59.12],[149.1,59.2]]],
  [1.12,[[149.23,59.32],[149.82,59.28],[150,59.34],[150.77,59.24],[150.41,59.15],[149.88,59.15],[149.23,59.23]]],
  [1.2,[[153.42,57.95],[153.77,58.12],[154.36,58.04],[154.83,57.79],[155.13,57.6],[155.37,57.16],[155.01,56.94],[154.72,56.9],[154.48,57.05],[154.19,57.27],[153.89,57.53],[153.54,57.75]]],
  [1.35,[[153.63,58.03],[154.25,58.04],[154.66,57.75],[154.95,57.45],[155.19,57.18],[154.83,57.16],[154.54,57.27],[154.01,57.53],[153.77,57.75]]],
  [1.25,[[154.42,58.04],[154.89,57.79],[155.19,57.49],[155.07,57.49],[154.78,57.75]]],
  [1.65,[[153.6,58.14],[153.89,58.01],[153.83,57.88],[153.54,58.04]]],
  [1.65,[[154.07,57.64],[154.42,57.53],[154.66,57.42],[154.54,57.34],[154.3,57.44],[154.1,57.53]]],
  [1.65,[[154.54,57.16],[154.72,57.29],[154.89,57.08],[155.13,56.97],[154.89,56.95],[154.66,57.07]]],
  [1.65,[[153.77,58.01],[154.13,57.86],[154.13,57.79],[153.77,57.93]]],
  [1.8,[[154.42,57.49],[154.69,57.45],[154.6,57.4]]],
  [1.2,[[152.89,58.78],[153.07,58.71],[153.01,58.63],[152.83,58.75]]],
  [1.2,[[153.24,58.63],[153.66,58.49],[153.63,58.44],[153.13,58.58]]],
  [1.2,[[152.3,58.6],[152.48,58.52],[152.45,58.45],[152.27,58.52]]],
  [1.2,[[153.48,58.3],[154.01,58.12],[154.13,58.01],[153.71,58.15]]],
  [1.4,[[152.89,58.49],[153.07,58.41],[153.13,58.19],[152.89,58.27]]],
  [1.6,[[152.71,58.3],[152.89,58.25],[152.89,58.17],[152.74,58.23]]],
  [1.6,[[150.83,58.91],[151.06,58.89],[151.06,58.84],[150.88,58.86]]],
  [1.2,[[151.59,58.78],[151.8,58.75],[151.8,58.67],[151.65,58.71]]],
  [1.2,[[151.89,59.11],[152.06,59.11],[152.06,59.08],[151.89,59.08]]],
  [1.2,[[149.23,59.28],[149.65,59.28],[149.88,59.19],[149.59,59.17],[149.23,59.23]]],
  [1.2,[[150.24,59.32],[150.59,59.28],[150.35,59.24]]],
  [1.4,[[149.3,59.26],[149.55,59.28],[149.6,59.2],[149.35,59.2]]]
];

// dots over the filled areas [lon, lat, value]
var swpDotsFront = [
  [155.04,58.99,0.3],[154.66,58.92,0.42],[156.54,57.56,0.6],[155.57,57.27,1.25],[153.07,59.28,0.54],[152.83,59.41,0.65],[153.3,59.26,0.54],[154.78,58.75,0.5],[154.83,58.56,0.5],[154.72,58.3,0.54],[155.19,58.12,0.6],[155.42,57.93,0.48],[155.78,57.86,0.5],[156.13,57.79,0.54],[156.31,57.68,0.7],[154.48,58.89,0.5],[153.95,59.15,0.7],
  [153.07,57.42,0.3],[152.77,57.53,0.3],[155.37,59.7,0.07],[155.3,59.75,0.07],[152.18,65.11,0.07],[152.3,65.11,0.07],[152.06,65.11,0.07],[152.18,65.17,0.07],[156.28,64.44,0.07],[156.73,64.61,0.07],[156.73,64.7,0.07],[150.87,64.83,0.07],[150.95,64.72,0.07],[159.27,65.89,0.07],[157.5,64.68,0.07],[158.65,64.85,0.12]
];

// ---- panel c: profiles along the track, latitude / kg m-2
var profileTicks = [54, 56, 58, 60, 62, 64, 66];
var pathTicks = [0, 0.2, 0.4, 0.6, 0.8, 1.0, 1.2, 1.4];
var observations = [[54.18,0],[57.88,0],[57.94,0.009],[58,0.002],[58.08,0],[58.18,0.016],[58.24,0.011],[58.3,0.011],[58.35,0.04],[58.39,0.066],[58.43,0.147],[58.46,0.259],[58.49,0.282],[58.57,0.253],[58.61,0.274],[58.66,0.284],[58.73,0.33],[58.77,0.355],[58.83,0.38],[58.86,0.482],[58.89,0.715],[58.95,0.816],[59,0.482],[59.06,0.3],[59.1,0.48],[59.14,1.07],[59.17,1.24],[59.21,1.433],[59.26,1.262],[59.33,1.075],[59.38,1.044],[59.44,0.836],[59.5,0.664],[59.56,0.482],[59.59,0.37],[59.65,0.39],[59.69,0.471],[59.77,0.466],[59.89,0.522],[59.99,0.459],[60.03,0.466],[60.07,0.555],[60.12,0.527],[60.19,0.37],[60.24,0.238],[60.32,0.122],[60.38,0.127],[60.46,0.238],[60.52,0.294],[60.58,0.218],[60.64,0.147],[60.7,0.101],[60.78,0.046],[60.89,0.025],[60.93,0.01],[61.01,0.015],[61.13,0.002],[61.19,0.006],[61.29,0],[61.39,0.005],[61.43,0.003],[61.49,0.008],[61.6,0],[62.8,0],[62.86,0.004],[62.94,0.005],[63,0],[64.19,0],[64.34,0.028],[64.44,0.034],[64.59,0.016],[64.8,0.058],[64.9,0.045],[65.05,0],[65.18,0.041],[65.3,0.039],[65.4,0.07],[65.6,0.016],[65.76,0.007],[66,0.005]];
var predictions = [[54.18,0],[58.66,0],[58.73,0.076],[58.78,0.319],[58.83,0.122],[58.89,0.36],[58.96,0.497],[59.02,0.33],[59.11,0.269],[59.15,1.05],[59.22,1.09],[59.26,1.364],[59.29,1.364],[59.33,1.308],[59.38,1.467],[59.45,1.343],[59.48,0.715],[59.55,0.634],[59.63,0.37],[59.7,0.274],[59.76,0.441],[59.8,0.649],[59.86,0.537],[59.92,0.558],[59.95,0.38],[60.02,0.38],[60.07,0.345],[60.11,0.456],[60.17,0.39],[60.22,0.259],[60.32,0.137],[60.46,0.259],[60.52,0.355],[60.6,0.368],[60.64,0.289],[60.69,0.269],[60.74,0.091],[60.8,0.098],[60.85,0.088],[60.89,0.025],[60.93,0.038],[61.01,0.041],[61.13,0],[64.22,0],[64.34,0.033],[64.44,0.032],[64.51,0.01],[64.57,0.024],[64.64,0],[64.75,0.034],[64.95,0],[65.05,0.028],[65.18,0],[65.27,0.119],[65.4,0.024],[65.49,0.059],[65.63,0.001],[66,0.003]];
var iwpGprof = [[54.18,0],[54.25,0.014],[54.33,0.014],[54.4,0.02],[54.79,0.019],[55.04,0.029],[55.29,0.02],[55.4,0.049],[55.55,0.047],[55.7,0.026],[55.95,0.026],[56.2,0.039],[56.3,0.039],[56.41,0.026],[56.61,0.026],[56.66,0.044],[56.81,0.037],[56.91,0.02],[57.32,0.016],[57.62,0.017],[57.72,0.032],[57.82,0.053],[57.87,0.045],[57.97,0.057],[58.25,0.058],[58.3,0.071],[58.39,0.223],[58.43,0.005],[58.47,0.056],[58.5,0.007],[58.58,0.015],[58.61,0.106],[58.71,0.132],[58.79,0.157],[58.83,0.177],[58.89,0.127],[58.96,0.119],[59,0.025],[59.06,0.017],[59.12,0.018],[59.2,0.233],[59.26,0.262],[59.38,0.267],[59.46,0.228],[59.5,0.086],[59.54,0.025],[59.65,0],[66,0]];

// ---- styles
var classColors = ['#2D00FF', '#00FF14', '#FF2028'];
var font = 'Liberation Sans';

function swpColor(v) {
  for (var i = 0; i < swpBinColors.length; i++) {
    if (v < swpBinEdges[i + 1]) return swpBinColors[i];
  }
  return swpBinColors[swpBinColors.length - 1];
}

// filled outlines through the cartesian coordinate system
function ringSeries(name, panel, rings, colorOf, z) {
  return {
    name: name,
    type: 'custom',
    coordinateSystem: 'cartesian2d',
    xAxisIndex: panel,
    yAxisIndex: panel,
    silent: true,
    clip: true,
    z: z,
    itemStyle: name ? {color: colorOf(0)} : undefined,
    data: rings.map(function(r, i) { return [i]; }),
    renderItem: function(params, api) {
      var i = api.value(0);
      return {
        type: 'polygon',
        shape: {points: rings[i].map(function(p) { return api.coord(p); })},
        style: {fill: colorOf(i)}
      };
    }
  };
}

function lineSeries(name, panel, data, color, width, z) {
  return {
    name: name,
    type: 'line',
    xAxisIndex: panel,
    yAxisIndex: panel,
    data: data,
    showSymbol: false,
    symbol: 'none',
    silent: true,
    z: z,
    itemStyle: {color: color},
    lineStyle: {color: color, width: width, join: 'round'}
  };
}

function dotSeries(panel, data, z) {
  return {
    type: 'scatter',
    xAxisIndex: panel,
    yAxisIndex: panel,
    data: data,
    symbol: 'circle',
    symbolSize: 24,
    silent: true,
    z: z,
    itemStyle: {opacity: 1, color: function(p) { return swpColor(p.value[2]); }}
  };
}

function mapXAxis(index) {
  return {
    type: 'value', gridIndex: index, min: 140, max: 160, interval: 5, z: 2,
    name: 'Longitude (°)', nameLocation: 'middle', nameGap: 176,
    nameTextStyle: {fontFamily: font, fontSize: 51, color: '#000'},
    axisLine: {onZero: false, lineStyle: {color: '#000', width: 3}},
    axisTick: {length: 32, lineStyle: {color: '#000', width: 3}},
    axisLabel: {margin: 62, fontFamily: font, fontSize: 50, color: '#000'},
    splitLine: {show: true, lineStyle: {color: '#000', width: 3, type: [5, 7]}}
  };
}
function mapYAxis(index) {
  return {
    type: 'value', gridIndex: index, min: 53, max: 66, z: 2,
    name: 'Latitude (°)', nameLocation: 'middle', nameGap: 186, nameRotate: 90,
    nameTextStyle: {fontFamily: font, fontSize: 45, color: '#000'},
    axisLine: {onZero: false, lineStyle: {color: '#000', width: 3}},
    axisTick: {length: 32, customValues: latTicks, lineStyle: {color: '#000', width: 3, type: [5, 7]}},
    axisLabel: {margin: 62, rotate: 90, customValues: latTicks, fontFamily: font, fontSize: 48, color: '#000'},
    splitLine: {show: true, lineStyle: {color: '#000', width: 3, type: [5, 7]}}
  };
}
function panelTitle(letter, x, y) {
  return {
    text: '{p|(}{b|' + letter + '}{p|)}',
    left: x, top: y, textAlign: 'center',
    textStyle: {rich: {
      p: {fontFamily: 'Liberation Serif', fontSize: 76, fontWeight: 'normal', color: '#000'},
      b: {fontFamily: 'Liberation Serif', fontSize: 76, fontWeight: 'bold', color: '#000'}
    }}
  };
}

var series = [];
// panel a
series.push(ringSeries('w/o Snowfall', 0, [swathRing], function() { return classColors[0]; }, 1));
series.push(ringSeries('w/ Supercooled', 0, greenRings, function() { return classColors[1]; }, 1.1));
series.push(ringSeries('w/o Supercooled', 0, redRings, function() { return classColors[2]; }, 1.2));
var patchRings = classPatches.map(function(p) { return p[1]; });
series.push(ringSeries('', 0, patchRings, function(i) { return classColors[classPatches[i][0]]; }, 1.3));
coastLines.forEach(function(c) { series.push(lineSeries('', 0, c, '#000', 3, 3)); });
series.push(lineSeries('', 0, trackLine, '#000', 9, 4));
// panel b
series.push(dotSeries(1, swpDotsBack, 0.5));
var swpRings = swpAreas.map(function(a) { return a[1]; });
series.push(ringSeries('', 1, swpRings, function(i) { return swpColor(swpAreas[i][0]); }, 1));
series.push(dotSeries(1, swpDotsFront, 1.5));
coastLines.forEach(function(c) { series.push(lineSeries('', 1, c, '#000', 3, 3)); });
series.push(lineSeries('', 1, trackLine, '#000', 9, 4));
// panel c
series.push(lineSeries('Observations', 2, observations, '#000', 3, 3));
series.push(lineSeries('IWP GPROF', 2, iwpGprof, '#2D00FF', 7, 4));
series.push(lineSeries('Predictions', 2, predictions, '#FF2028', 7, 5));
// colour bar
var barCells = swpBinColors.map(function(c, i) { return [swpBinEdges[i], swpBinEdges[i + 1]]; });
series.push({
  type: 'custom', coordinateSystem: 'cartesian2d', xAxisIndex: 3, yAxisIndex: 3, silent: true, z: 1,
  data: barCells,
  encode: {y: [0, 1]},
  renderItem: function(params, api) {
    var lo = api.coord([0, api.value(0)]);
    var hi = api.coord([1, api.value(1)]);
    return {type: 'rect', shape: {x: lo[0], y: hi[1], width: hi[0] - lo[0], height: lo[1] - hi[1]},
      style: {fill: swpBinColors[params.dataIndex]}};
  }
});

var option = {
  animation: false,
  backgroundColor: '#fff',
  title: [panelTitle('a', 882, 1605), panelTitle('b', 2725, 1605), panelTitle('c', 1806, 3474)],
  grid: [
    {left: 262, top: 54, width: 1459, height: 1250},
    {left: 2101, top: 73, width: 1190, height: 1171},
    {left: 1180, top: 1755, width: 1448, height: 1509, show: true, borderColor: '#333', borderWidth: 3},
    {left: 3336, top: 132, width: 56, height: 1054, show: true, borderColor: '#000', borderWidth: 5}
  ],
  xAxis: [
    mapXAxis(0),
    mapXAxis(1),
    {
      type: 'value', gridIndex: 2, min: 53.72, max: 66.47,
      axisLine: {onZero: false, show: false},
      axisTick: {length: 32, customValues: profileTicks, lineStyle: {color: '#000', width: 3}},
      axisLabel: {margin: 72, customValues: profileTicks, fontFamily: font, fontSize: 51, color: '#000',
        formatter: function(v) { return v + '°N'; }},
      splitLine: {show: false}
    },
    {type: 'value', gridIndex: 3, min: 0, max: 1, show: false}
  ],
  yAxis: [
    mapYAxis(0),
    mapYAxis(1),
    {
      type: 'value', gridIndex: 2, min: -0.057, max: 1.49,
      name: 'Snow/Ice water path (kg·m⁻²)', nameLocation: 'middle', nameGap: 186, nameRotate: 90,
      nameTextStyle: {fontFamily: font, fontSize: 51, color: '#000'},
      axisLine: {onZero: false, show: false},
      axisTick: {length: 31, customValues: pathTicks, lineStyle: {color: '#000', width: 3}},
      axisLabel: {margin: 65, rotate: 90, customValues: pathTicks, fontFamily: font, fontSize: 48, color: '#000',
        formatter: function(v) { return v.toFixed(1); }},
      splitLine: {show: false}
    },
    {
      type: 'value', gridIndex: 3, position: 'right', min: -0.018, max: 1.903,
      name: 'Snow water path (kg·m⁻²)', nameLocation: 'middle', nameGap: 138, nameRotate: 90,
      nameTextStyle: {fontFamily: font, fontSize: 46, color: '#000'},
      axisLine: {show: false},
      axisTick: {length: 32, customValues: swpTicks, lineStyle: {color: '#000', width: 3}},
      axisLabel: {margin: 65, customValues: swpTicks, fontFamily: font, fontSize: 40, color: '#000',
        formatter: function(v) { return v.toFixed(1); }},
      splitLine: {show: false}
    }
  ],
  legend: [
    {
      data: classNames, left: 1221, top: 1022, orient: 'vertical', selectedMode: false, z: 6,
      icon: 'circle', itemWidth: 22, itemHeight: 22, itemGap: 20,
      padding: [48, 17, 39, 36],
      backgroundColor: '#fff', borderColor: '#000', borderWidth: 3,
      textStyle: {fontFamily: font, fontSize: 52, lineHeight: 50, color: '#000', padding: [0, 0, 0, 31]}
    },
    {
      data: ['Observations', 'Predictions', 'IWP GPROF'], left: 2115, top: 1755, orient: 'vertical', selectedMode: false, z: 6,
      icon: 'rect', itemWidth: 102, itemHeight: 8, itemGap: 25,
      padding: [55, 26, 41, 43],
      backgroundColor: '#fff', borderColor: '#333', borderWidth: 3,
      textStyle: {fontFamily: font, fontSize: 51, lineHeight: 50, color: '#000', padding: [0, 0, 0, 35]}
    }
  ],
  series: series
};

var chart = echarts.init(document.getElementById('main'), null, {renderer: 'canvas'});
chart.setOption(option);
</script>
</body>
</html>
